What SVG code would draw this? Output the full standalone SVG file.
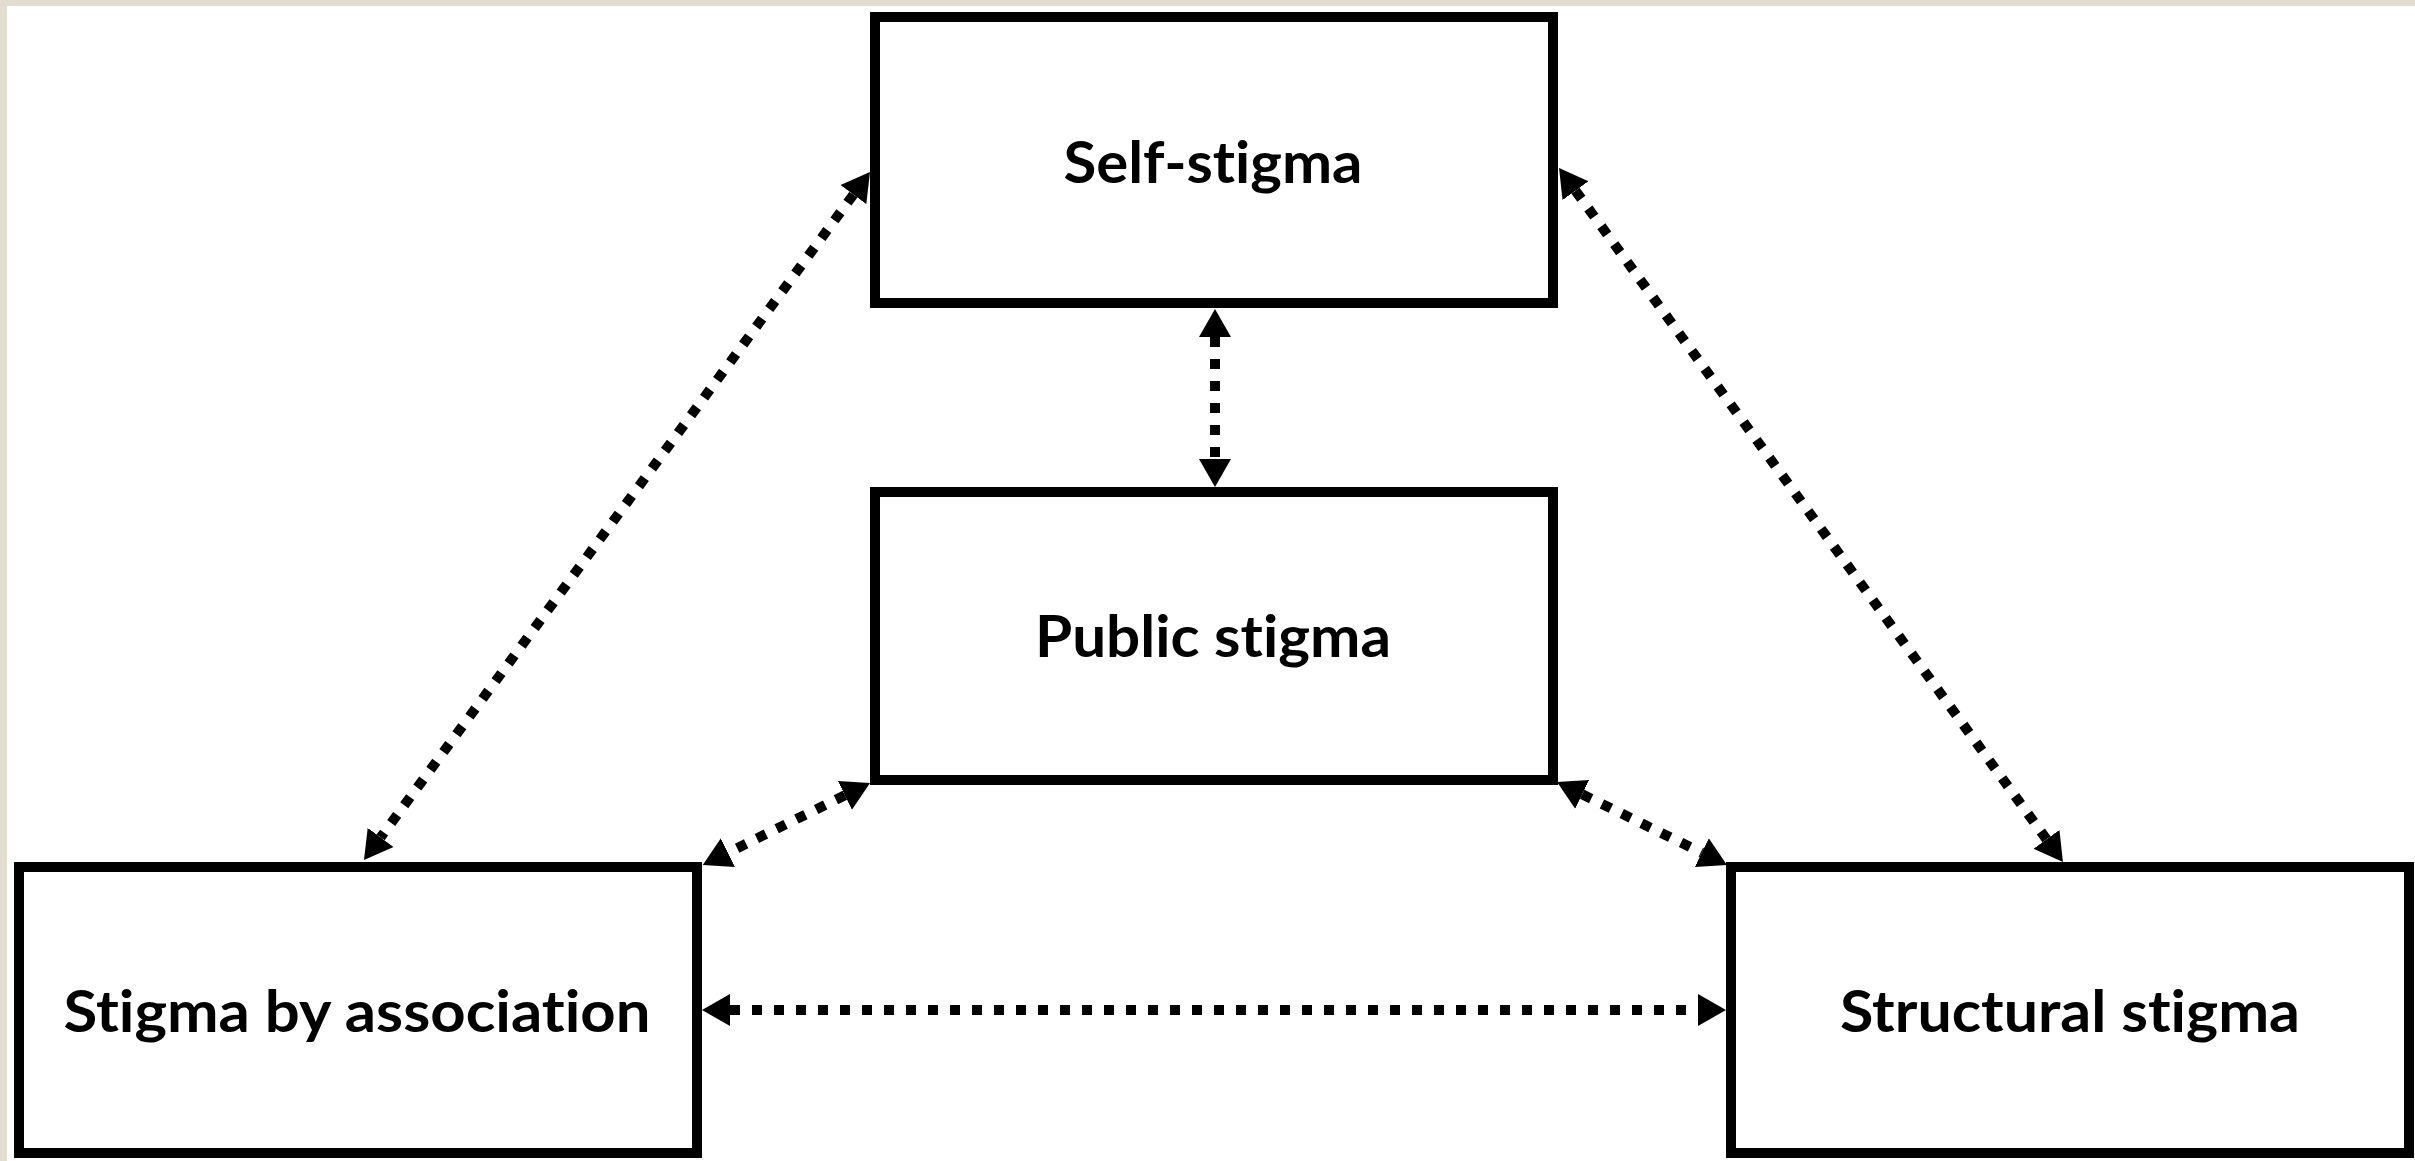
<svg xmlns="http://www.w3.org/2000/svg" width="2415" height="1161" viewBox="0 0 2415 1161">
  <style>
    .box { fill: #ffffff; stroke: #000000; stroke-width: 10; }
    .lbl { font-family: Lato, "Open Sans", "Liberation Sans", sans-serif; font-weight: 700; font-size: 57px; fill: #000000; text-anchor: middle; font-variant-ligatures: none; font-feature-settings: "liga" 0, "clig" 0; }
    .con { stroke: #000000; stroke-width: 10; stroke-dasharray: 10 12; fill: none; marker-start: url(#ah); marker-end: url(#ah); }
  </style>
  <defs>
    <marker id="ah" markerUnits="userSpaceOnUse" markerWidth="30" markerHeight="34" viewBox="0 -17 30 34" refX="0" refY="0" orient="auto-start-reverse">
      <path d="M0,-16 L28,0 L0,16 Z" fill="#000000"/>
    </marker>
  </defs>
  <rect x="0" y="0" width="2415" height="1161" fill="#ffffff"/>
  <rect x="0" y="0" width="2415" height="6" fill="#e3dcd1"/>
  <rect x="0" y="0" width="7" height="1161" fill="#e3dcd1"/>

  <g id="connectors">
    <line class="con" x1="1215" y1="337" x2="1215" y2="459"/>
    <line class="con" x1="853.4" y1="194.6" x2="380.6" y2="837.4"/>
    <line class="con" x1="1575.5" y1="190.7" x2="2046.5" y2="839.3"/>
    <line class="con" x1="844.9" y1="795.3" x2="727.9" y2="852.7"/>
    <line class="con" x1="1582.2" y1="794.3" x2="1701.8" y2="852.7"/>
    <line class="con" x1="730" y1="1010" x2="1698" y2="1010"/>
  </g>

  <g id="self-stigma">
    <rect class="box" x="875" y="17" width="678" height="286"/>
    <text class="lbl" x="1213" y="183" textLength="299" lengthAdjust="spacingAndGlyphs">Self-stigma</text>
  </g>
  <g id="public-stigma">
    <rect class="box" x="875" y="492" width="678" height="288"/>
    <text class="lbl" x="1213" y="657" textLength="356" lengthAdjust="spacingAndGlyphs">Public stigma</text>
  </g>
  <g id="stigma-by-association">
    <rect class="box" x="19" y="867" width="678" height="286"/>
    <text class="lbl" x="357" y="1032" textLength="587" lengthAdjust="spacingAndGlyphs">Stigma by association</text>
  </g>
  <g id="structural-stigma">
    <rect class="box" x="1731" y="867" width="678" height="286"/>
    <text class="lbl" x="2070" y="1032" textLength="460" lengthAdjust="spacingAndGlyphs">Structural stigma</text>
  </g>
</svg>
